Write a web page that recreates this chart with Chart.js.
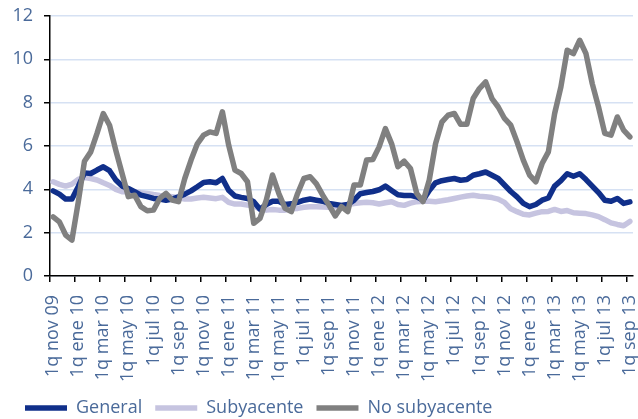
<!DOCTYPE html>
<html>
<head>
<meta charset="utf-8">
<script src="https://cdn.jsdelivr.net/npm/chart.js@4"></script>
<style>
  html, body { margin: 0; padding: 0; background: #fff; }
  #wrap { width: 638px; height: 419px; }
</style>
</head>
<body>
<div id="wrap"><canvas id="ipcChart"></canvas></div>
<script>
// fortnights "1q" / "2q" from nov 09 to 1q sep 13
const monthNames = ['ene', 'feb', 'mar', 'abr', 'may', 'jun', 'jul', 'ago', 'sep', 'oct', 'nov', 'dic'];
const periods = [];
for (let y = 2009, m = 10; periods.length < 93; ) {
    const yy = String(y % 100).padStart(2, '0');
    periods.push('1q ' + monthNames[m] + ' ' + yy);
    if (periods.length < 93) periods.push('2q ' + monthNames[m] + ' ' + yy);
    m++;
    if (m === 12) { m = 0; y++; }
}

const general = [
    3.93, 3.78, 3.55, 3.55, 4.12, 4.76, 4.73, 4.89, 5.04, 4.86,
    4.43, 4.15, 4.04, 3.89, 3.73, 3.66, 3.58, 3.55, 3.50, 3.55,
    3.66, 3.78, 3.93, 4.12, 4.32, 4.35, 4.30, 4.50, 3.96, 3.69,
    3.63, 3.58, 3.43, 3.08, 3.30, 3.45, 3.45, 3.30, 3.33, 3.40,
    3.50, 3.55, 3.50, 3.45, 3.35, 3.30, 3.25, 3.30, 3.50, 3.80,
    3.85, 3.90, 3.98, 4.15, 3.95, 3.75, 3.72, 3.72, 3.65, 3.50,
    3.95, 4.30, 4.40, 4.45, 4.50, 4.42, 4.45, 4.65, 4.72, 4.80,
    4.65, 4.50, 4.20, 3.90, 3.65, 3.35, 3.20, 3.30, 3.50, 3.60,
    4.15, 4.40, 4.72, 4.60, 4.72, 4.45, 4.15, 3.85, 3.50, 3.45,
    3.58, 3.35, 3.42
];

const subyacente = [
    4.35, 4.23, 4.15, 4.24, 4.46, 4.55, 4.50, 4.43, 4.30, 4.18,
    4.00, 3.89, 3.89, 3.89, 3.84, 3.81, 3.76, 3.72, 3.69, 3.66,
    3.61, 3.55, 3.55, 3.60, 3.63, 3.60, 3.57, 3.63, 3.40, 3.32,
    3.32, 3.27, 3.23, 3.09, 3.04, 3.07, 3.04, 3.04, 3.10, 3.12,
    3.17, 3.20, 3.20, 3.18, 3.17, 3.20, 3.23, 3.30, 3.35, 3.38,
    3.40, 3.38, 3.32, 3.38, 3.43, 3.30, 3.26, 3.36, 3.43, 3.45,
    3.45, 3.43, 3.47, 3.52, 3.58, 3.64, 3.69, 3.73, 3.68, 3.66,
    3.62, 3.55, 3.40, 3.10, 2.97, 2.85, 2.82, 2.90, 2.97, 2.98,
    3.07, 2.98, 3.02, 2.92, 2.90, 2.88, 2.82, 2.74, 2.60, 2.45,
    2.38, 2.32, 2.52
];

const noSubyacente = [
    2.73, 2.50, 1.89, 1.66, 3.40, 5.30, 5.73, 6.58, 7.50, 6.96,
    5.80, 4.73, 3.66, 3.73, 3.20, 3.01, 3.04, 3.58, 3.81, 3.50,
    3.43, 4.50, 5.35, 6.10, 6.50, 6.65, 6.58, 7.58, 6.04, 4.89,
    4.73, 4.35, 2.43, 2.66, 3.50, 4.66, 3.81, 3.12, 2.97, 3.81,
    4.50, 4.58, 4.25, 3.73, 3.27, 2.77, 3.20, 2.97, 4.20, 4.20,
    5.35, 5.38, 5.96, 6.80, 6.10, 5.04, 5.30, 4.96, 3.81, 3.43,
    4.43, 6.10, 7.10, 7.42, 7.50, 7.00, 7.00, 8.19, 8.65, 8.96,
    8.19, 7.80, 7.27, 6.96, 6.19, 5.35, 4.66, 4.35, 5.19, 5.73,
    7.50, 8.73, 10.42, 10.26, 10.88, 10.26, 8.88, 7.80, 6.58, 6.50,
    7.34, 6.73, 6.42
];

const yTicks = [0, 2, 4, 6, 8, 10, 12];

const textColor = '#4a6a9a';
const fontFamily = "'Open Sans', 'Noto Sans', sans-serif";

new Chart(document.getElementById('ipcChart').getContext('2d'), {
    type: 'line',
    data: {
        labels: periods,
        datasets: [
            { label: 'General', data: general, borderColor: '#102f8a', backgroundColor: '#102f8a', borderWidth: 5.5, order: 2 },
            { label: 'Subyacente', data: subyacente, borderColor: '#c6c4e0', backgroundColor: '#c6c4e0', borderWidth: 5.5, order: 3 },
            { label: 'No subyacente', data: noSubyacente, borderColor: '#808080', backgroundColor: '#808080', borderWidth: 5.5, order: 1 }
        ]
    },
    options: {
        responsive: true,
        maintainAspectRatio: false,
        animation: false,
        layout: { padding: { top: 16, right: 5, bottom: -8, left: 12 } },
        elements: {
            line: { tension: 0, borderJoinStyle: 'round', borderCapStyle: 'round' },
            point: { radius: 0, hoverRadius: 0 }
        },
        plugins: {
            tooltip: { enabled: false },
            legend: {
                position: 'bottom',
                align: 'start',
                labels: {
                    usePointStyle: true,
                    pointStyle: 'line',
                    pointStyleWidth: 42,
                    padding: 13,
                    color: textColor,
                    font: { family: fontFamily, size: 18 },
                    sort: (a, b) => a.datasetIndex - b.datasetIndex
                }
            }
        },
        scales: {
            x: {
                offset: true,
                grid: {
                    offset: true,
                    drawOnChartArea: false,
                    tickLength: 6,
                    lineWidth: 1.5,
                    tickColor: ctx => (ctx.index % 4 === 0 ? '#000' : 'rgba(0,0,0,0)')
                },
                border: { color: '#000', width: 1.5 },
                ticks: {
                    autoSkip: false,
                    maxRotation: 90,
                    minRotation: 90,
                    padding: 13,
                    color: textColor,
                    font: { family: fontFamily, size: 18 },
                    callback: (v, i) => (i % 4 === 0 ? periods[i] : '')
                },
                afterFit: s => { s.height = 110; s.paddingLeft = 0; s.paddingRight = 0; }
            },
            y: {
                min: 0,
                max: 12,
                afterBuildTicks: s => { s.ticks = yTicks.map(v => ({ value: v })); },
                grid: {
                    color: '#d6e1f3',
                    lineWidth: 1.5,
                    borderDash: [6, 4],
                    tickLength: 6,
                    tickColor: '#000',
                    tickWidth: 1.5
                },
                border: { color: '#000', width: 1.5 },
                ticks: {
                    padding: 11,
                    color: textColor,
                    font: { family: fontFamily, size: 18 }
                },
                afterFit: s => { s.width = 38; s.paddingTop = 0; s.paddingBottom = 0; }
            }
        }
    }
});
</script>
</body>
</html>
